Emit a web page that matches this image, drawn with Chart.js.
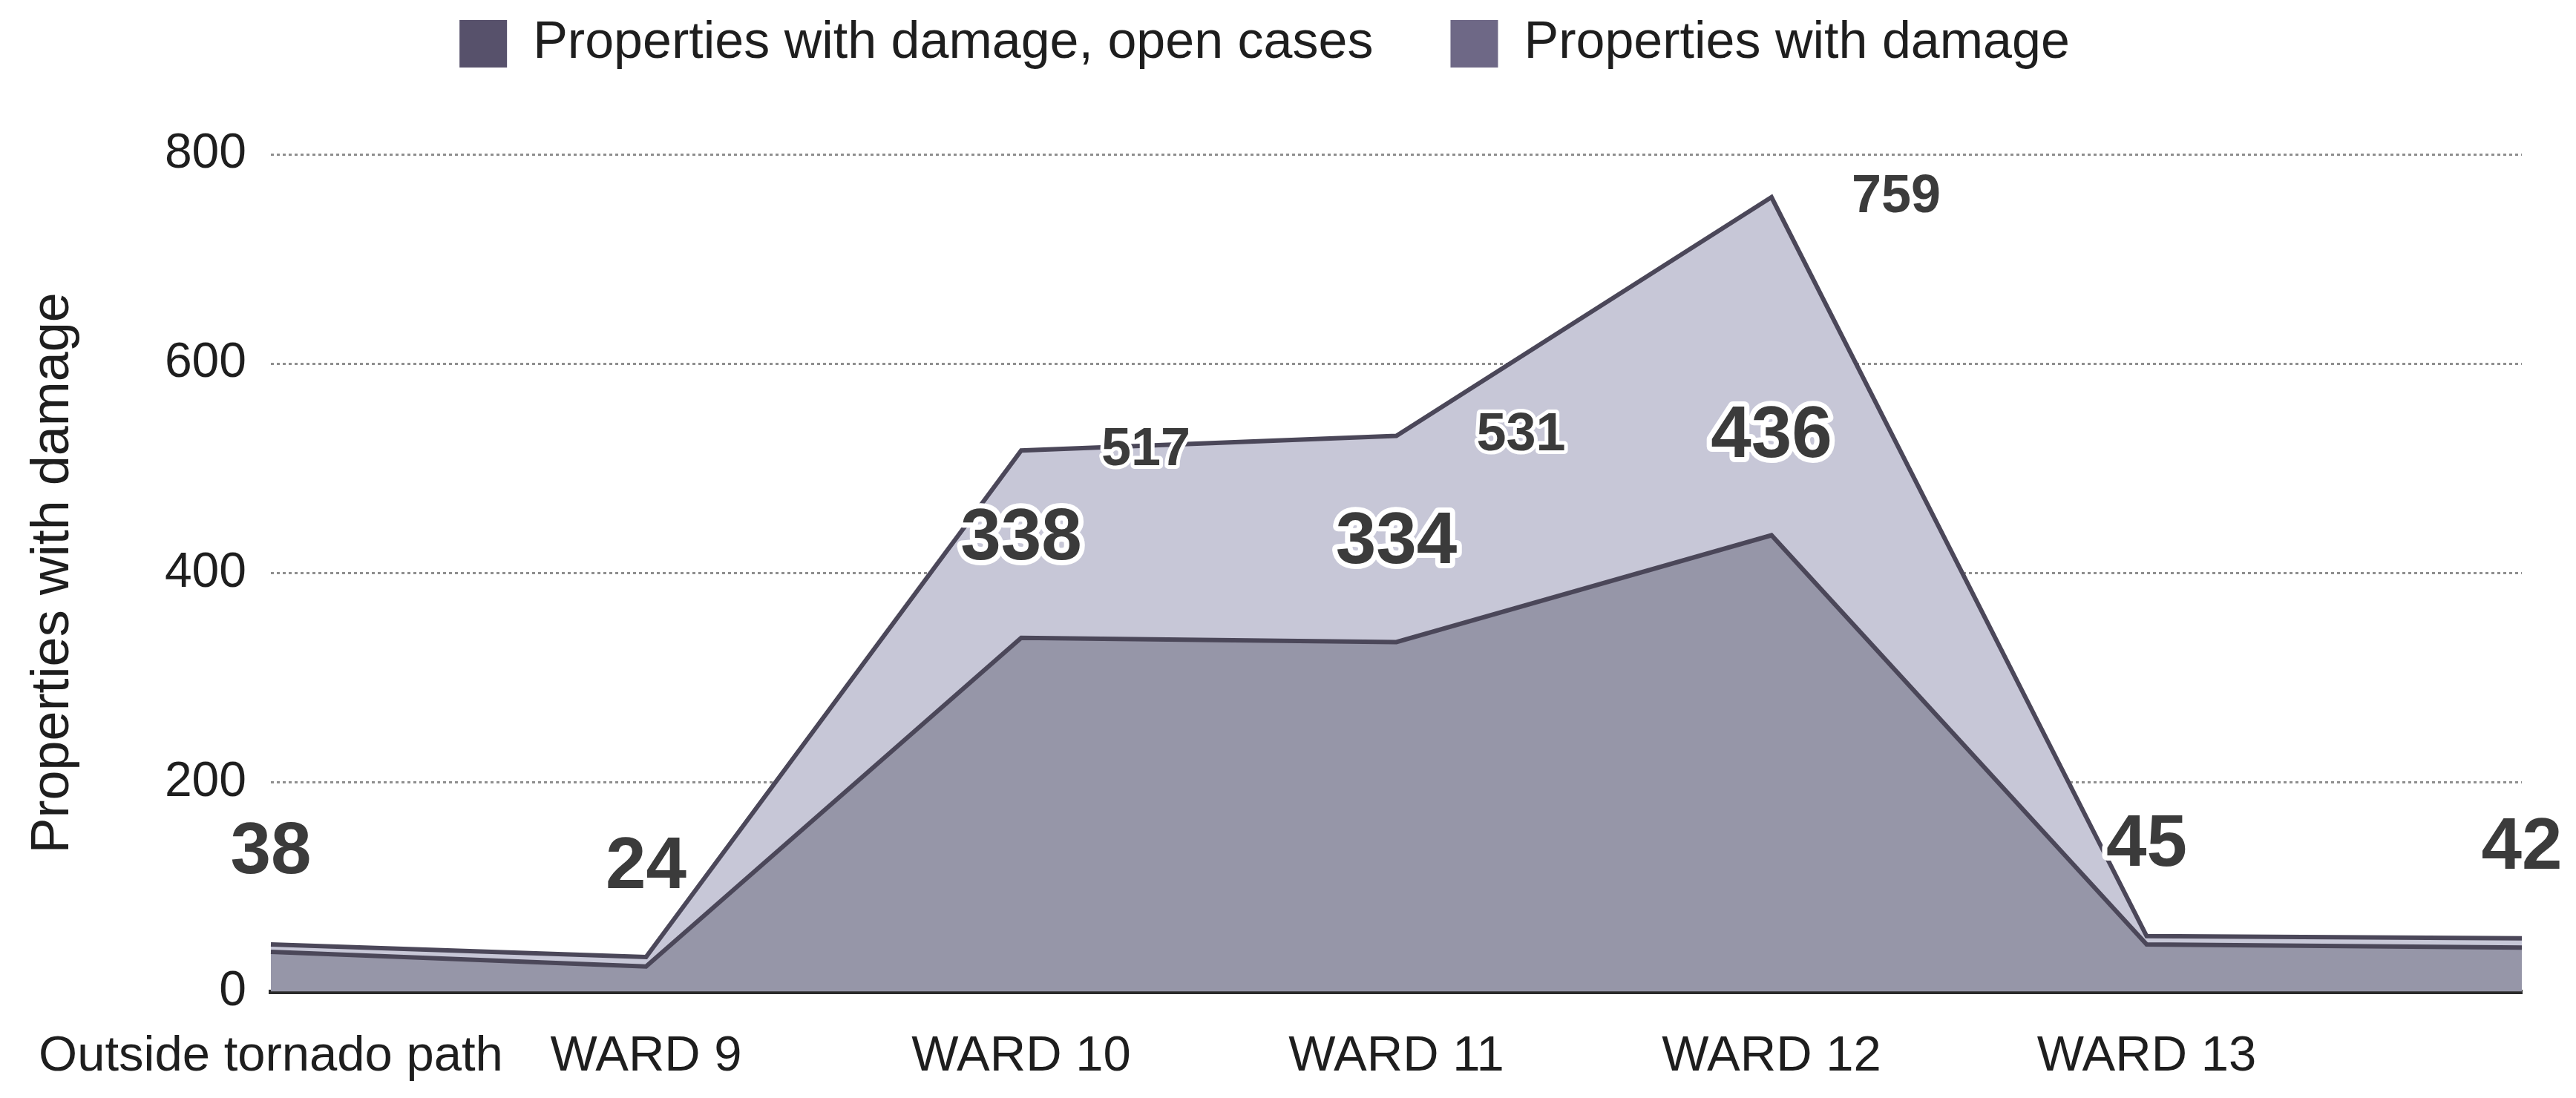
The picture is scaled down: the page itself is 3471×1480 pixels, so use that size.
<!DOCTYPE html>
<html>
<head>
<meta charset="utf-8">
<script src="https://cdn.jsdelivr.net/npm/chart.js@4.4.1/dist/chart.umd.min.js"></script>
<style>
  html, body { margin: 0; padding: 0; background: #fff; }
  #wrap { width: 3471px; height: 1480px; }
</style>
</head>
<body>
<div id="wrap"><canvas id="damageChart"></canvas></div>
<script>
const wards = ['Outside tornado path', 'WARD 9', 'WARD 10', 'WARD 11', 'WARD 12', 'WARD 13', ''];
const openCases = [38, 24, 338, 334, 436, 45, 42];
const allDamage = [45, 33, 517, 531, 759, 53, 51];
const showAllDamageLabel = [false, false, true, true, true, false, false];
const yTicks = [0, 200, 400, 600, 800];

const FONT = '"Liberation Sans", Arial, Helvetica, sans-serif';
const legendSwatch = ['#57516b', '#6e6886'];

// extra room under the legend
const legendGap = {
  id: 'legendGap',
  beforeInit(chart) {
    const fit = chart.legend.fit;
    chart.legend.fit = function () {
      fit.call(this);
      this.height += 104;
    };
  }
};

// value labels with a white halo, drawn on top of everything
const valueLabels = {
  id: 'valueLabels',
  afterDraw(chart) {
    const ctx = chart.ctx;
    ctx.save();
    ctx.textAlign = 'center';
    ctx.textBaseline = 'middle';
    ctx.lineJoin = 'round';
    ctx.strokeStyle = '#fff';
    ctx.fillStyle = '#3b3b3b';

    ctx.font = 'bold 72px ' + FONT;
    ctx.lineWidth = 10;
    chart.getDatasetMeta(1).data.forEach((pt, i) => {
      if (!showAllDamageLabel[i]) return;
      ctx.strokeText(allDamage[i], pt.x + 168, pt.y);
      ctx.fillText(allDamage[i], pt.x + 168, pt.y);
    });

    ctx.font = 'bold 98px ' + FONT;
    ctx.lineWidth = 14;
    chart.getDatasetMeta(0).data.forEach((pt, i) => {
      ctx.strokeText(openCases[i], pt.x, pt.y - 133);
      ctx.fillText(openCases[i], pt.x, pt.y - 133);
    });
    ctx.restore();
  }
};

new Chart(document.getElementById('damageChart'), {
  type: 'line',
  data: {
    labels: wards,
    datasets: [
      {
        label: 'Properties with damage, open cases',
        data: openCases,
        fill: 'origin',
        backgroundColor: '#9696a8',
        borderColor: '#4b4759',
        borderWidth: 6,
        pointRadius: 0,
        tension: 0
      },
      {
        label: 'Properties with damage',
        data: allDamage,
        fill: 'origin',
        backgroundColor: '#c7c7d7',
        borderColor: '#4b4759',
        borderWidth: 6,
        pointRadius: 0,
        tension: 0
      }
    ]
  },
  options: {
    responsive: true,
    maintainAspectRatio: false,
    animation: false,
    layout: { padding: { top: -80, left: 10, right: 73, bottom: -25 } },
    plugins: {
      tooltip: { enabled: false },
      legend: {
        position: 'top',
        labels: {
          font: { family: FONT, size: 70 },
          color: '#1e1e1e',
          boxWidth: 64,
          boxHeight: 64,
          padding: 104,
          generateLabels(chart) {
            const items = Chart.defaults.plugins.legend.labels.generateLabels(chart);
            items.forEach((it, i) => {
              it.fillStyle = legendSwatch[i];
              it.strokeStyle = legendSwatch[i];
              it.lineWidth = 0;
            });
            return items;
          }
        }
      }
    },
    scales: {
      x: {
        offset: false,
        z: 1,
        grid: { display: false },
        border: { display: true, color: '#2b2b2b', width: 6 },
        ticks: {
          font: { family: FONT, size: 67 },
          color: '#1e1e1e',
          padding: 40,
          maxRotation: 0,
          autoSkip: false
        }
      },
      y: {
        min: 0,
        max: 800,
        z: 1,
        afterBuildTicks(scale) {
          scale.ticks = yTicks.map(v => ({ value: v }));
        },
        afterFit(scale) {
          scale.width = 355;
        },
        grid: { color: '#8f8f8f', lineWidth: 3, drawTicks: false },
        border: { display: false, dash: [4, 4] },
        ticks: {
          font: { family: FONT, size: 66 },
          color: '#1e1e1e',
          padding: 33
        },
        title: {
          display: true,
          text: 'Properties with damage',
          font: { family: FONT, size: 72 },
          color: '#1e1e1e',
          padding: { top: 19, bottom: 0 }
        }
      }
    }
  },
  plugins: [legendGap, valueLabels]
});
</script>
</body>
</html>
